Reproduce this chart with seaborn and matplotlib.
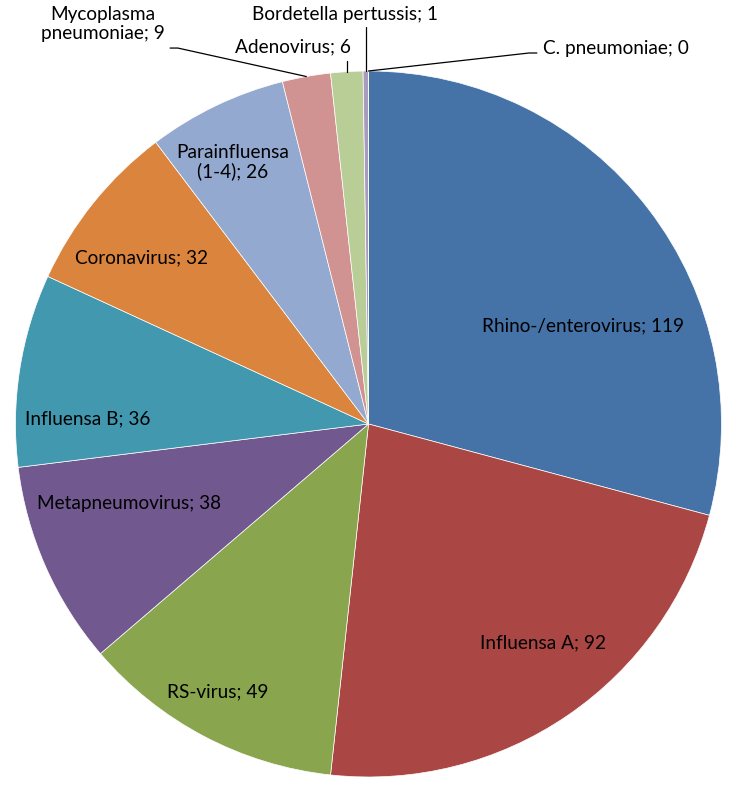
import matplotlib
matplotlib.use("Agg")
import matplotlib.pyplot as plt
import seaborn as sns
import numpy as np

categories = ["Rhino-/enterovirus", "Influensa A", "RS-virus", "Metapneumovirus",
              "Influensa B", "Coronavirus", "Parainfluensa\n(1-4)", "Mycoplasma\npneumoniae",
              "Adenovirus", "Bordetella pertussis", "C. pneumoniae"]
values = [119, 92, 49, 38, 36, 32, 26, 9, 6, 1, 0]
colors = ["#4572A7", "#AA4643", "#89A54E", "#71588F", "#4198AF", "#DB843D",
          "#93A9CF", "#D19392", "#B9CD96", "#A99BBD", "#F5B380"]

# label positions (data coords, radius = 1)
label_pos = [(0.608, 0.278), (0.494, -0.620), (-0.426, -0.759), (-0.678, -0.224),
             (-0.795, 0.014), (-0.644, 0.470), (-0.384, 0.742), (-0.752, 1.133),
             (-0.214, 1.068), (-0.067, 1.159), (0.701, 1.065)]

sns.set_theme(style="white")
plt.rcParams['font.family'] = ['Lato', 'DejaVu Sans']

fig = plt.figure(figsize=(7.33, 7.87), dpi=100)
ax = fig.add_axes([15.5 / 733, (787 - 424 - 353) / 787, 706 / 733, 706 / 787])

wedges, _ = ax.pie(values, colors=colors, startangle=90, counterclock=False,
                   wedgeprops=dict(linewidth=0.5, edgecolor='white'), radius=1.0)
ax.set_xlim(-1.0, 1.0)
ax.set_ylim(-1.0, 1.0)
ax.set_aspect('equal')
ax.axis('off')

fs = 13.7
for i, (cat, val) in enumerate(zip(categories, values)):
    txt = f"{cat}; {val}"
    x, y = label_pos[i]
    ax.text(x, y, txt, ha='center', va='center', fontsize=fs, color='black',
            linespacing=1.1, clip_on=False)

def edge_point(w, r=1.0):
    ang = np.deg2rad((w.theta1 + w.theta2) / 2)
    return r * np.cos(ang), r * np.sin(ang)

lw = 0.9
# Mycoplasma
ex, ey = edge_point(wedges[7])
ax.plot([ex, -0.540, -0.540 - 0.022], [ey, 1.065, 1.065], color='black', lw=lw, clip_on=False)
# Adenovirus
ex, ey = edge_point(wedges[8])
ax.plot([ex, ex], [ey, 1.027], color='black', lw=lw, clip_on=False)
# Bordetella
ex, ey = edge_point(wedges[9])
ax.plot([ex, ex], [ey, 1.125], color='black', lw=lw, clip_on=False)
# C. pneumoniae
ex, ey = edge_point(wedges[10])
ax.plot([ex, 0.455, 0.477], [ey, 1.051, 1.051], color='black', lw=lw, clip_on=False)

fig.savefig("out.png", dpi=100, facecolor='white')
